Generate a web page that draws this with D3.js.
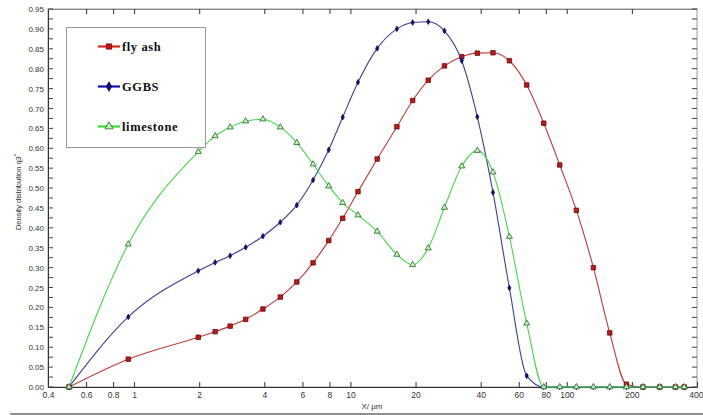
<!DOCTYPE html>
<html>
<head>
<meta charset="utf-8">
<script src="https://cdn.jsdelivr.net/npm/d3@7"></script>
<style>
  html, body { margin: 0; padding: 0; background: #fff; }
  svg { display: block; font-family: "Liberation Sans", Arial, sans-serif; }
</style>
</head>
<body>
<svg id="chart" width="703" height="415"></svg>
<script>
// Particle size classes (µm)
const sizes = [0.5, 0.94, 1.98, 2.37, 2.78, 3.28, 3.94, 4.74, 5.65, 6.72, 7.94, 9.21, 10.84, 13.3, 16.4,
  19.4, 22.9, 27.2, 32.7, 38.6, 45.6, 54.3, 65.3, 78.3, 92.8, 110.8, 132.8, 158, 188.7, 225, 269, 318, 349];

// Density distribution q3* for each material
const flyAsh = [0, 0.070, 0.125, 0.139, 0.153, 0.170, 0.196, 0.226, 0.264, 0.312, 0.368, 0.424, 0.491, 0.573, 0.654,
  0.720, 0.771, 0.807, 0.830, 0.839, 0.840, 0.820, 0.759, 0.663, 0.558, 0.444, 0.300, 0.136, 0.007, 0, 0, 0, 0];
const ggbs = [0, 0.176, 0.292, 0.313, 0.330, 0.351, 0.379, 0.414, 0.457, 0.520, 0.596, 0.678, 0.766, 0.851, 0.900,
  0.916, 0.918, 0.895, 0.820, 0.679, 0.489, 0.249, 0.028, 0, 0, 0, 0, 0, 0, 0, 0, 0, 0];
const limestone = [0, 0.359, 0.591, 0.631, 0.653, 0.668, 0.673, 0.653, 0.614, 0.560, 0.505, 0.463, 0.432, 0.391, 0.333,
  0.307, 0.349, 0.451, 0.555, 0.594, 0.540, 0.378, 0.160, 0, 0, 0, 0, 0, 0, 0, 0, 0, 0];

const xTicks = [0.4, 0.6, 0.8, 1, 2, 4, 6, 8, 10, 20, 40, 60, 80, 100, 200, 400];
const yTicks = d3.range(0, 0.951, 0.05);
const yMinor = d3.range(0, 0.951, 0.025);

const seriesNames = ["fly ash", "GGBS", "limestone"];

const svg = d3.select("#chart");
const plotLeft = 48, plotRight = 697, plotTop = 9, plotBottom = 387;

const x = d3.scaleLog().domain([0.4, 400]).range([plotLeft, plotRight]);
const y = d3.scaleLinear().domain([0, 0.95]).range([plotBottom, plotTop]);

const labelColor = "#333";

// Frame
svg.append("rect")
  .attr("x", plotLeft).attr("y", plotTop)
  .attr("width", plotRight - plotLeft).attr("height", plotBottom - plotTop)
  .attr("fill", "none").attr("stroke", "#999").attr("stroke-width", 1);

// Bottom axis (ticks pointing inward)
const xAxis = svg.append("g").attr("transform", `translate(0,${plotBottom})`)
  .call(d3.axisBottom(x).tickValues(xTicks).tickSizeInner(-5).tickSizeOuter(0)
    .tickFormat(d3.format("~g")));
xAxis.select(".domain").attr("stroke", "#333");
xAxis.selectAll(".tick line").attr("stroke", "#333");
xAxis.selectAll(".tick text").attr("y", 5).attr("dy", "0.71em")
  .attr("font-size", 8.5).attr("fill", labelColor)
  .attr("font-family", "'Liberation Sans', Arial, sans-serif");
// keep the last label inside the page
xAxis.selectAll(".tick text").filter(d => d === 400)
  .attr("text-anchor", "end").attr("x", 6);

// Top axis, ticks only
const xTop = svg.append("g").attr("transform", `translate(0,${plotTop})`)
  .call(d3.axisTop(x).tickValues(xTicks.slice(1, -1)).tickSizeInner(-5).tickSizeOuter(0).tickFormat(""));
xTop.select(".domain").attr("stroke", "#888");
xTop.selectAll(".tick line").attr("stroke", "#333");

// Left axis
const yAxis = svg.append("g").attr("transform", `translate(${plotLeft},0)`)
  .call(d3.axisLeft(y).tickValues(yTicks).tickSizeInner(0).tickSizeOuter(0)
    .tickFormat(d3.format(".2f")));
yAxis.select(".domain").attr("stroke", "#333");
yAxis.selectAll(".tick text").attr("x", -4).attr("font-size", 8).attr("fill", labelColor)
  .attr("font-family", "'Liberation Sans', Arial, sans-serif");
svg.append("g").selectAll("line").data(yMinor).join("line")
  .attr("x1", plotLeft).attr("x2", plotLeft + 5)
  .attr("y1", d => y(d)).attr("y2", d => y(d))
  .attr("stroke", "#444");

// Right axis ticks
svg.append("g").selectAll("line").data(yMinor).join("line")
  .attr("x1", plotRight).attr("x2", plotRight - 5)
  .attr("y1", d => y(d)).attr("y2", d => y(d))
  .attr("stroke", "#444");

// Axis titles
svg.append("text")
  .attr("x", 372).attr("y", 409)
  .attr("text-anchor", "middle").attr("font-size", 8).attr("fill", labelColor)
  .text("X/ µm");

const yTitle = svg.append("text")
  .attr("transform", "translate(21,192) rotate(-90)")
  .attr("text-anchor", "middle").attr("font-size", 7.5).attr("fill", labelColor);
yTitle.append("tspan").text("Density distribution q3");
yTitle.append("tspan").attr("dy", -3).attr("font-size", 6).text("*");

// Bottom rule under the chart
svg.append("line")
  .attr("x1", 10).attr("x2", 703).attr("y1", 414).attr("y2", 414)
  .attr("stroke", "#222").attr("stroke-width", 1.2);

// Series
const styles = [
  { data: flyAsh, line: "#c0393b", legendLine: "#e02020", marker: "square", fill: "#c01818", stroke: "#6a0a0a", size: 20 },
  { data: ggbs, line: "#3c3f9c", legendLine: "#1010b8", marker: "diamond", fill: "#101070", stroke: "#101060", size: 9 },
  { data: limestone, line: "#44d844", legendLine: "#33dd33", marker: "triangle", fill: "#c8f0c0", stroke: "#1f6a1f", size: 16 }
];

const line = d3.line()
  .x(d => x(d[0])).y(d => y(d[1]))
  .curve(d3.curveMonotoneX);

const symbolTypes = { square: d3.symbolSquare, diamond: d3.symbolDiamond, triangle: d3.symbolTriangle };

const plot = svg.append("g");
styles.forEach(s => {
  const pts = sizes.map((v, i) => [v, s.data[i]]);
  plot.append("path").datum(pts)
    .attr("d", line).attr("fill", "none")
    .attr("stroke", s.line).attr("stroke-width", 1.1);
  plot.append("g").selectAll("path").data(pts).join("path")
    .attr("transform", d => `translate(${x(d[0])},${y(d[1])})`)
    .attr("d", d3.symbol(symbolTypes[s.marker], s.size))
    .attr("fill", s.fill).attr("stroke", s.stroke).attr("stroke-width", 0.8);
});

// Legend
const legend = svg.append("g");
legend.append("rect")
  .attr("x", 66.5).attr("y", 27.5).attr("width", 139).attr("height", 120)
  .attr("fill", "#fff").attr("stroke", "#999");
const rowsY = [46.5, 86.5, 126.5];
styles.forEach((s, i) => {
  const g = legend.append("g").attr("transform", `translate(0,${rowsY[i]})`);
  g.append("line").attr("x1", 98).attr("x2", 120).attr("y1", 0).attr("y2", 0)
    .attr("stroke", s.legendLine).attr("stroke-width", 2.2);
  g.append("path").attr("transform", "translate(109,0)")
    .attr("d", d3.symbol(symbolTypes[s.marker], s.marker === "diamond" ? 26 : 28))
    .attr("fill", s.fill).attr("stroke", s.stroke).attr("stroke-width", 0.8);
  g.append("text")
    .attr("x", 122).attr("y", 4.5)
    .style("font-family", "'Liberation Serif', 'Times New Roman', serif")
    .attr("font-weight", "bold").attr("font-size", 12.5)
    .attr("letter-spacing", 0.6).attr("fill", "#111")
    .text(seriesNames[i]);
});
</script>
</body>
</html>
